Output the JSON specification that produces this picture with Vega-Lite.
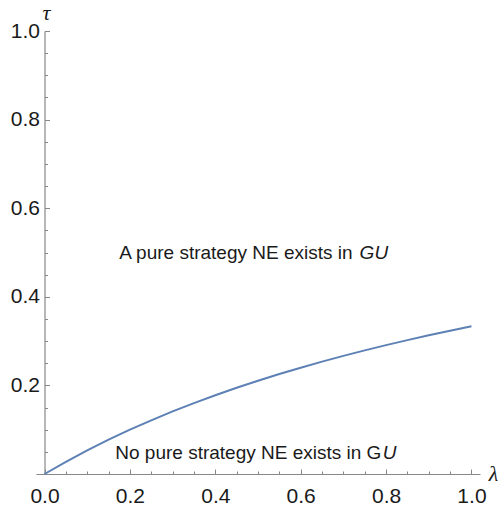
{
  "$schema": "https://vega.github.io/schema/vega-lite/v6.json",
  "autosize": "none",
  "width": 444,
  "height": 443,
  "padding": {"left": 36, "top": 31, "right": 19, "bottom": 36},
  "background": "white",
  "config": {
    "view": {"stroke": null},
    "font": "Liberation Sans",
    "axis": {"grid": false, "domainColor": "#888888", "tickColor": "#888888", "labelColor": "#1a1a1a", "labelFont": "Liberation Sans", "labelFontSize": 21, "domainWidth": 1.2, "tickWidth": 1}
  },
  "datasets": {
    "curve": [
      {"lambda": 0, "tau": 0},
      {"lambda": 0.05, "tau": 0.0276},
      {"lambda": 0.1, "tau": 0.0533},
      {"lambda": 0.15, "tau": 0.0774},
      {"lambda": 0.2, "tau": 0.1},
      {"lambda": 0.25, "tau": 0.1212},
      {"lambda": 0.3, "tau": 0.1412},
      {"lambda": 0.35, "tau": 0.16},
      {"lambda": 0.4, "tau": 0.1778},
      {"lambda": 0.45, "tau": 0.1946},
      {"lambda": 0.5, "tau": 0.2105},
      {"lambda": 0.55, "tau": 0.2256},
      {"lambda": 0.6, "tau": 0.24},
      {"lambda": 0.65, "tau": 0.2537},
      {"lambda": 0.7, "tau": 0.2667},
      {"lambda": 0.75, "tau": 0.2791},
      {"lambda": 0.8, "tau": 0.2909},
      {"lambda": 0.85, "tau": 0.3022},
      {"lambda": 0.9, "tau": 0.313},
      {"lambda": 0.95, "tau": 0.3234},
      {"lambda": 1.0, "tau": 0.3333}
    ],
    "labelsRight": [
      {"lambda": 0.7215, "tau": 0.486, "text": "A pure strategy NE exists in"},
      {"lambda": 0.789, "tau": 0.034, "text": "No pure strategy NE exists in G"}
    ],
    "labelsLeft": [
      {"lambda": 0.738, "tau": 0.486, "text": "GU"},
      {"lambda": 0.792, "tau": 0.034, "text": "U"}
    ]
  },
  "layer": [
    {
      "data": {"name": "curve"},
      "mark": {"type": "line", "color": "#5E81B5", "strokeWidth": 2, "clip": false},
      "encoding": {
        "x": {"field": "lambda", "type": "quantitative", "scale": {"domain": [-0.02, 1.02], "nice": false, "zero": false},
          "axis": {"orient": "bottom", "values": [0, 0.2, 0.4, 0.6, 0.8, 1.0], "format": ".1f", "tickSize": -5, "labelPadding": 16, "labelFlush": false, "labelOverlap": false,
            "title": "λ", "titleFont": "Liberation Serif", "titleFontStyle": "italic", "titleFontWeight": "normal", "titleFontSize": 22, "titleColor": "#1a1a1a", "titleAngle": 0, "titleAlign": "center", "titleBaseline": "middle", "titleX": 457, "titleY": -1}},
        "y": {"field": "tau", "type": "quantitative", "scale": {"domain": [0, 1], "nice": false},
          "axis": {"orient": "left", "offset": -8.5, "values": [0.2, 0.4, 0.6, 0.8, 1.0], "format": ".1f", "tickSize": -5, "labelPadding": 10, "labelFlush": false, "labelOverlap": false,
            "title": "τ", "titleFont": "Liberation Serif", "titleFontStyle": "italic", "titleFontWeight": "normal", "titleFontSize": 22, "titleColor": "#1a1a1a", "titleAngle": 0, "titleAlign": "center", "titleBaseline": "middle", "titleX": 1.5, "titleY": -19}}
      }
    },
    {
      "data": {"name": "labelsRight"},
      "mark": {"type": "text", "font": "Liberation Sans", "fontSize": 19, "baseline": "alphabetic", "align": "right", "color": "#1a1a1a"},
      "encoding": {
        "x": {"field": "lambda", "type": "quantitative",
          "axis": {"orient": "bottom", "values": [0.05, 0.1, 0.15, 0.25, 0.3, 0.35, 0.45, 0.5, 0.55, 0.65, 0.7, 0.75, 0.85, 0.9, 0.95], "labels": false, "domain": false, "tickSize": -3, "title": null}},
        "y": {"field": "tau", "type": "quantitative",
          "axis": {"orient": "left", "offset": -8.5, "values": [0.05, 0.1, 0.15, 0.25, 0.3, 0.35, 0.45, 0.5, 0.55, 0.65, 0.7, 0.75, 0.85, 0.9, 0.95], "labels": false, "domain": false, "tickSize": -3, "title": null}},
        "text": {"field": "text"}
      }
    },
    {
      "data": {"name": "labelsLeft"},
      "mark": {"type": "text", "font": "Liberation Sans", "fontSize": 19, "fontStyle": "italic", "baseline": "alphabetic", "align": "left", "color": "#1a1a1a"},
      "encoding": {
        "x": {"field": "lambda", "type": "quantitative", "axis": null},
        "y": {"field": "tau", "type": "quantitative", "axis": null},
        "text": {"field": "text"}
      }
    }
  ],
  "resolve": {"axis": {"x": "independent", "y": "independent"}}
}
